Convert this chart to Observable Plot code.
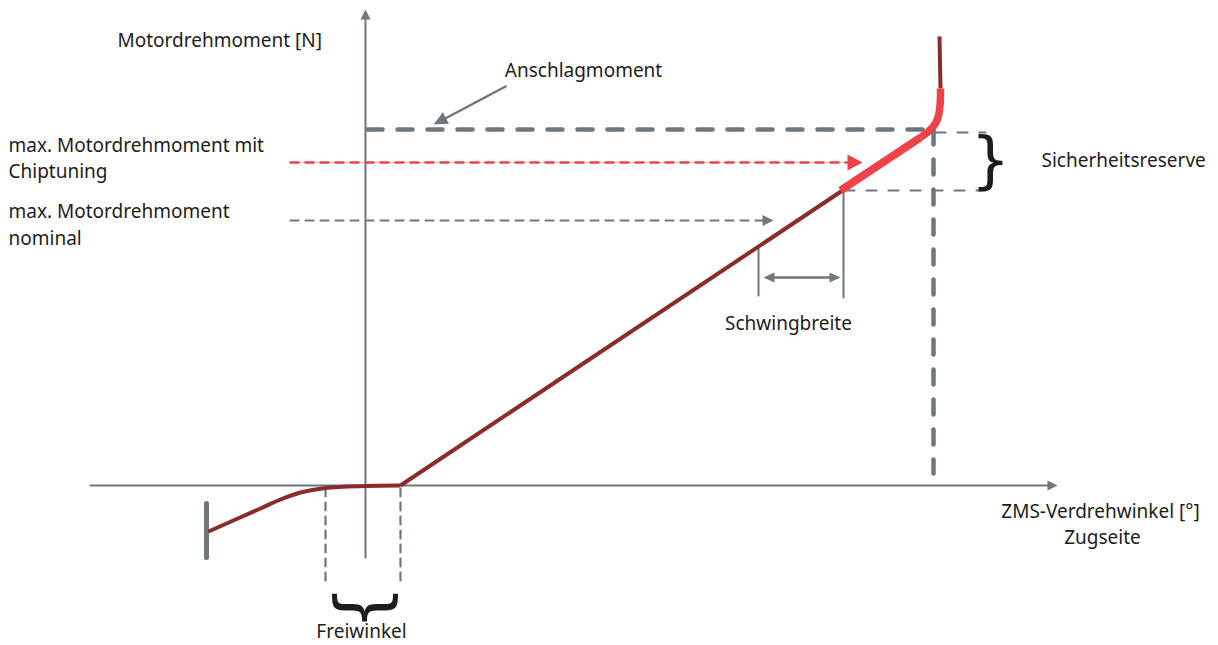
<!DOCTYPE html>
<html><head><meta charset="utf-8">
<script src="https://cdn.jsdelivr.net/npm/d3@7"></script>
<script src="https://cdn.jsdelivr.net/npm/@observablehq/plot@0.6"></script>
<style>html,body{margin:0;padding:0;background:#fff}</style>
</head><body><div id="chart"></div>
<script>
// Schematic units: x = ZMS-Verdrehwinkel (origin at axis crossing), y = Motordrehmoment
const xAxisLine = [[-275, 0], [684, 0]];
const yAxisLine = [[0, -72], [0, 467]];
const stopBar = [[-159, -18], [-159, -72]];
const curveSoft = [[-157, -46], [-105, -23], [-85, -14], [-65, -7], [-40, -2.5], [0, -0.5], [35, 0]];
const curveLinear = [[35, 0], [477, 295]];
const curveReserve = [[475, 295], [555, 348]];
const curveBend = [[555, 348], [575, 362], [575, 397]];
const curveStop = [[575, 397], [574, 449]];

const anschlagLevel = [[2, 356], [570, 356]];
const anschlagDrop = [[568, 356], [568, 12]];
const chipLevel = [[-75, 323], [484, 323]];
const nominalLevel = [[-75, 265], [398, 265]];
const reserveTop = [[570, 353], [620, 353]];
const reserveBottom = [[479, 295], [620, 295]];
const schwingLeft = [[393, 239], [393, 190]];
const schwingRight = [[478, 295], [478, 188]];
const schwingSpan = [[404, 208], [467, 208]];
const freiLeft = [[-40, -3], [-40, -100]];
const freiRight = [[35, -3], [35, -100]];
const anschlagPointer = [[140, 399], [76, 365]];

// arrow heads: tip, direction, length, half width, colour
const heads = [
  {tip: [692, 0], dir: [1, 0], len: 10, w: 5, c: "#6e767e"},
  {tip: [0, 476], dir: [0, 1], len: 10, w: 5, c: "#6e767e"},
  {tip: [497, 323], dir: [1, 0], len: 15, w: 8, c: "#ee4148"},
  {tip: [408, 265], dir: [1, 0], len: 11, w: 5.5, c: "#6e767e"},
  {tip: [398, 208], dir: [-1, 0], len: 11, w: 5, c: "#6e767e"},
  {tip: [475, 208], dir: [1, 0], len: 11, w: 5, c: "#6e767e"},
  {tip: [68, 361], dir: [-72, -38], len: 14, w: 6.5, c: "#6e767e"}
];

const labelsStart = [
  {x: -248, y: 445, t: "Motordrehmoment [N]"},
  {x: -357, y: 340, t: "max. Motordrehmoment mit"},
  {x: -357, y: 314, t: "Chiptuning"},
  {x: -357, y: 274, t: "max. Motordrehmoment"},
  {x: -357, y: 247, t: "nominal"},
  {x: 676, y: 325, t: "Sicherheitsreserve"}
];
const labelsMiddle = [
  {x: 218, y: 415, t: "Anschlagmoment"},
  {x: 423, y: 162, t: "Schwingbreite"},
  {x: -4, y: -146, t: "Freiwinkel"},
  {x: 735, y: -26, t: "ZMS-Verdrehwinkel [°]"},
  {x: 737, y: -52, t: "Zugseite"}
];
const braces = [
  {x: 625, y: 324, t: "}", r: 0, s: 62},
  {x: -3, y: -122, t: "{", r: -90, s: 72}
];

const triangles = heads.flatMap((h, i) => {
  const n = Math.hypot(h.dir[0], h.dir[1]);
  const ux = h.dir[0] / n, uy = h.dir[1] / n;
  const bx = h.tip[0] - ux * h.len, by = h.tip[1] - uy * h.len;
  return [
    {x: h.tip[0], y: h.tip[1], id: i, c: h.c},
    {x: bx - uy * h.w, y: by + ux * h.w, id: i, c: h.c},
    {x: bx + uy * h.w, y: by - ux * h.w, id: i, c: h.c}
  ];
});

const GRAY = "#6e767e", DARK = "#8a2c2b", RED = "#ee4148", INK = "#1d1d1b";
const seg = (pts, o) => Plot.line(pts, {x: d => d[0], y: d => d[1], ...o});

const chart = Plot.plot({
  width: 1218, height: 645, margin: 0,
  x: {domain: [-365, 853], range: [0, 1218], axis: null},
  y: {domain: [-160, 485], range: [645, 0], axis: null},
  style: {fontFamily: "Noto Sans", background: "#fff"},
  marks: [
    seg(xAxisLine, {stroke: GRAY, strokeWidth: 2}),
    seg(yAxisLine, {stroke: GRAY, strokeWidth: 2}),
    seg(anschlagLevel, {stroke: GRAY, strokeWidth: 4.5, strokeDasharray: "15,15"}),
    seg(anschlagDrop, {stroke: GRAY, strokeWidth: 4.5, strokeDasharray: "15,15"}),
    seg(chipLevel, {stroke: "#f6b3b3", strokeWidth: 1}),
    seg(chipLevel, {stroke: RED, strokeWidth: 2.5, strokeDasharray: "8,7"}),
    seg(nominalLevel, {stroke: GRAY, strokeWidth: 2.2, strokeDasharray: "8,7"}),
    seg(reserveTop, {stroke: GRAY, strokeWidth: 2.2, strokeDasharray: "10,12"}),
    seg(reserveBottom, {stroke: GRAY, strokeWidth: 2.2, strokeDasharray: "10,12"}),
    seg(schwingLeft, {stroke: GRAY, strokeWidth: 2}),
    seg(schwingRight, {stroke: GRAY, strokeWidth: 2}),
    seg(schwingSpan, {stroke: GRAY, strokeWidth: 2.5}),
    seg(freiLeft, {stroke: GRAY, strokeWidth: 2.2, strokeDasharray: "8,6"}),
    seg(freiRight, {stroke: GRAY, strokeWidth: 2.2, strokeDasharray: "8,6"}),
    seg(anschlagPointer, {stroke: GRAY, strokeWidth: 2.5}),
    seg(stopBar, {stroke: GRAY, strokeWidth: 5}),
    Plot.line(triangles, {x: "x", y: "y", z: "id", fill: d => d.c, stroke: "none"}),
    seg(curveSoft, {stroke: DARK, strokeWidth: 4, curve: "catmull-rom", strokeLinecap: "butt"}),
    seg(curveLinear, {stroke: DARK, strokeWidth: 4, strokeLinecap: "butt"}),
    seg(curveStop, {stroke: DARK, strokeWidth: 4, strokeLinecap: "butt"}),
    seg(curveReserve, {stroke: RED, strokeWidth: 8, strokeLinecap: "butt"}),
    seg(curveBend, {stroke: RED, strokeWidth: 7.5, curve: "basis", strokeLinecap: "butt"}),
    Plot.text(labelsStart, {x: "x", y: "y", text: "t", textAnchor: "start", fontSize: 19, fill: INK, lineAnchor: "middle"}),
    Plot.text(labelsMiddle, {x: "x", y: "y", text: "t", textAnchor: "middle", fontSize: 19, fill: INK, lineAnchor: "middle"}),
    Plot.text(braces, {x: "x", y: "y", text: "t", rotate: "r", fontSize: "s", fill: INK, lineAnchor: "middle", textAnchor: "middle", fontFamily: "DejaVu Sans"})
  ]
});
document.getElementById("chart").append(chart);
</script></body></html>
